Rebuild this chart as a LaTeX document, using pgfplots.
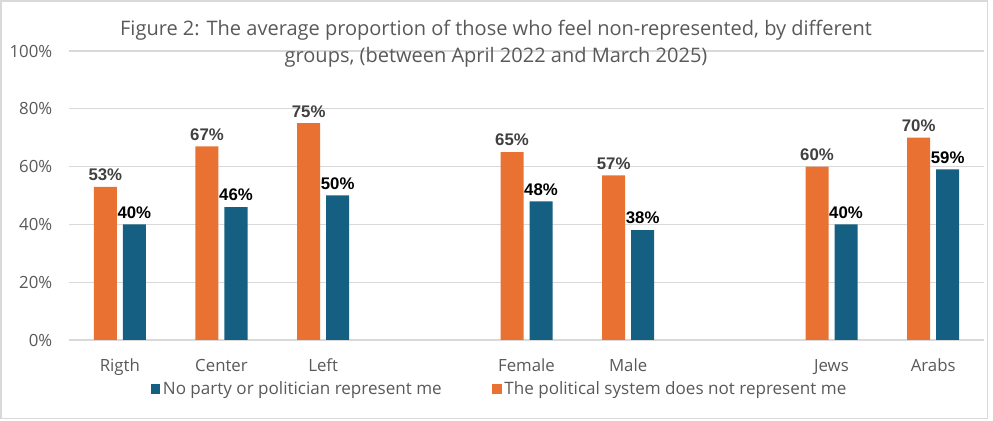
\documentclass[border=0pt]{standalone}
\usepackage{pgfplots}
\pgfplotsset{compat=1.18}
\usepackage{fontspec}
\setmainfont{Open Sans}
\newfontfamily\labfont{Liberation Sans}
\definecolor{orng}{HTML}{E97132}
\definecolor{blu}{HTML}{156082}
\definecolor{txt}{HTML}{595959}
\definecolor{grd}{HTML}{D9D9D9}
\definecolor{lab}{HTML}{404040}
\begin{document}
\begin{tikzpicture}
\path[use as bounding box] (-51.75pt,-60.75pt) rectangle (693pt,255pt);
\begin{axis}[
  at={(0pt,0pt)}, anchor=south west,
  width=686.25pt, height=216.75pt, scale only axis,
  xmin=-0.5, xmax=8.5, ymin=0, ymax=100,
  axis line style={draw=none},
  ytick={0,20,40,60,80,100},
  yticklabel={\pgfmathprintnumber{\tick}\%},
  ymajorgrids, major grid style={grd, line width=1pt},
  major tick length=0pt, tick style={draw=none},
  xtick={0,1,2,4,5,7,8},
  xticklabels={Rigth,Center,Left,Female,Male,Jews,Arabs},
  ticklabel style={font=\fontsize{12.6}{14}\selectfont, text=txt},
  /pgf/number format/assume math mode=true,
  yticklabel style={anchor=east, xshift=-9pt},
  xticklabel style={anchor=base, yshift=-23.5pt},
  ybar=4.5pt, bar width=17.25pt,
  nodes near coords={\pgfmathprintnumber{\pgfplotspointmeta}\%},
  nodes near coords style={font=\labfont\bfseries\fontsize{12.6}{14}\selectfont, /pgf/number format/assume math mode=true, yshift=1pt},
  legend style={at={(0.471,-0.170)}, anchor=center, draw=none, fill=none,
    legend columns=2, font=\fontsize{12.8}{14}\selectfont, text=txt,
    /tikz/every even column/.append style={column sep=36pt},
    inner sep=0pt},
  reverse legend,
]
\addplot[fill=orng, draw=none, nodes near coords style={text=lab},
  legend image code/.code={\fill[orng] (0pt,-3.5pt) rectangle (7pt,3.5pt);}]
  coordinates {(0,53) (1,67) (2,75) (4,65) (5,57) (7,60) (8,70)};
\addlegendentry{The political system does not represent me}
\addplot[fill=blu, draw=none, nodes near coords style={text=black},
  legend image code/.code={\fill[blu] (0pt,-3.5pt) rectangle (7pt,3.5pt);}]
  coordinates {(0,40) (1,46) (2,50) (4,48) (5,38) (7,40) (8,59)};
\addlegendentry{No party or politician represent me}
\end{axis}
\node[align=center, font=\fontsize{15}{20.25}\selectfont, text=txt] at (320.25pt,222.4pt)
  {Figure 2: The average proportion of those who feel non-represented, by different\\groups, (between April 2022 and March 2025)};
\draw[grd, line width=1.2pt] (-51pt,-58.9pt) rectangle (688.9pt,254.25pt);
\end{tikzpicture}
\end{document}
